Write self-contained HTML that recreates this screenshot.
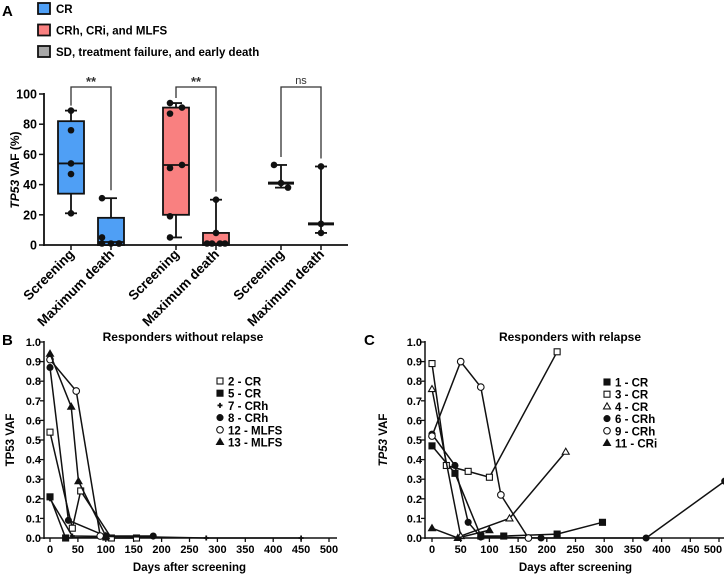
<!DOCTYPE html>
<html><head><meta charset="utf-8"><style>
body{margin:0;background:#fff}
svg{display:block;font-family:"Liberation Sans",Arial,sans-serif;font-weight:bold}
</style></head><body>
<svg id="s" width="724" height="574" viewBox="0 0 724 574" xmlns="http://www.w3.org/2000/svg"></svg>
<script>
// ---- Panel A data ----
const groupNames=["CR","CRh, CRi, and MLFS","SD, treatment failure, and early death"];
const groupColors=["#4f9ff5","#f98080","#a8a8a8"];
const catLabels=["Screening","Maximum death"];
const boxQ1=[34,0,20,0,39,8];
const boxMed=[54,2,53,1,41,14];
const boxQ3=[82,18,91,8,41,14];
const boxMin=[21,0,5,0,38,8];
const boxMax=[89,31,94,30,53,52];
const ptsCRs=[89,76,54,47,21];
const ptsCRm=[31,5,1,1,1,1];
const ptsCRhs=[94,91,87,53,51,19,5];
const ptsCRhm=[30,8,1,1,1,1];
const ptsSDs=[53,41,38];
const ptsSDm=[52,14,8];
const sigLabels=["**","**","ns"];
const yTicksA=[0,20,40,60,80,100];
// ---- Panel B data ----
const bNames=["2 - CR","5 - CR","7 -  CRh","8 - CRh","12 - MLFS","13 - MLFS"];
const bMarkers=["osq","fsq","plus","fci","oci","ftri"];
const b2d=[0,40,55,110,155], b2v=[0.54,0.05,0.24,0,0];
const b5d=[0,28,100], b5v=[0.21,0,0.005];
const b7d=[0,40,185,280,450], b7v=[0.2,0.01,0.005,0,0];
const b8d=[0,33,100,185], b8v=[0.87,0.09,0.01,0.01];
const b12d=[0,47,90], b12v=[0.91,0.75,0.01];
const b13d=[0,38,51,100], b13v=[0.94,0.67,0.29,0.01];
// ---- Panel C data ----
const cNames=["1 - CR","3 - CR","4 - CR","6 - CRh","9 - CRh","11 - CRi"];
const cMarkers=["fsq","osq","otri","fci","oci","ftri"];
const c1d=[0,40,85,125,218,297], c1v=[0.47,0.33,0.01,0.01,0.02,0.08];
const c3d=[0,25,63,100,218], c3v=[0.89,0.37,0.34,0.31,0.95];
const c4d=[0,50,135,233], c4v=[0.76,0.01,0.1,0.44];
const c6d=[0,40,63,85,190,373,510], c6v=[0.53,0.37,0.08,0.005,0,0,0.29];
const c9d=[0,50,85,120,168], c9v=[0.52,0.9,0.77,0.22,0];
const c11d=[0,45,100], c11v=[0.05,0,0.04];
const xTicks=[0,50,100,150,200,250,300,350,400,450,500];
const yTicksL=[0,0.1,0.2,0.3,0.4,0.5,0.6,0.7,0.8,0.9,1.0];

const S=document.getElementById('s');const NS="http://www.w3.org/2000/svg";
function el(t,a,p){const e=document.createElementNS(NS,t);for(const k in a)e.setAttribute(k,a[k]);(p||S).appendChild(e);return e;}
function txt(x,y,s,a,p){const e=el('text',Object.assign({x:x,y:y},a||{}),p);e.textContent=s;return e;}

// ===== Panel A =====
let t=txt(2,16,"A",{'font-size':15});
groupNames.forEach((n,i)=>{const g=el('g',{});
 el('rect',{x:38,y:3+i*21.5,width:12,height:11,fill:groupColors[i],stroke:'#111','stroke-width':1.8},g);
 txt(56,13+i*21.5,n,{'font-size':11.5},g);});
const ay=v=>245-v*1.51;
const catX=[71,111,176,216,281,321];
const ax=el('g',{});
el('line',{x1:44,y1:93,x2:44,y2:246,stroke:'#111','stroke-width':1.8},ax);
el('line',{x1:43,y1:245,x2:348,y2:245,stroke:'#111','stroke-width':1.8},ax);
yTicksA.forEach(v=>{el('line',{x1:39,y1:ay(v),x2:44,y2:ay(v),stroke:'#111','stroke-width':1.5},ax);txt(37,ay(v)+4.5,v,{'font-size':12.5,'text-anchor':'end'},ax);});
t=txt(19,170,"",{'font-size':12,'text-anchor':'middle',transform:'rotate(-90 19 170)'});
t.innerHTML='<tspan font-style="italic">TP53</tspan> VAF (%)';
const allPts=[ptsCRs,ptsCRm,ptsCRhs,ptsCRhm,ptsSDs,ptsSDm];
const jit=[[0,0,0,0,0,0,0],[-9,-9,0,8,-9,8],[-6,6,-6,6,-6,-6,-6],[0,0,-9,-4,4,9],[-7,0,7],[0,0,0]];
catX.forEach((x,i)=>{const g=el('g',{});
 const gi=Math.floor(i/2);
 el('line',{x1:x,y1:ay(boxMin[i]),x2:x,y2:ay(boxMax[i]),stroke:'#111','stroke-width':1.8},g);
 el('line',{x1:x-6,y1:ay(boxMax[i]),x2:x+6,y2:ay(boxMax[i]),stroke:'#111','stroke-width':1.8},g);
 el('line',{x1:x-6,y1:ay(boxMin[i]),x2:x+6,y2:ay(boxMin[i]),stroke:'#111','stroke-width':1.8},g);
 if(gi<2)el('rect',{x:x-13,y:ay(boxQ3[i]),width:26,height:ay(boxQ1[i])-ay(boxQ3[i]),fill:groupColors[gi],stroke:'#111','stroke-width':1.8},g);
 el('line',{x1:x-13,y1:ay(boxMed[i]),x2:x+13,y2:ay(boxMed[i]),stroke:'#111','stroke-width':gi<2?1.8:3},g);
 allPts[i].forEach((v,k)=>{el('circle',{cx:x+jit[i][k],cy:ay(v),r:3.3,fill:'#111'},g);});
 el('line',{x1:x,y1:245,x2:x,y2:250,stroke:'#111','stroke-width':1.5},g);
 txt(x+4,255,catLabels[i%2],{'font-size':13.5,'text-anchor':'end',transform:`rotate(-45 ${x+4} 255)`},g);});
sigLabels.forEach((s,i)=>{const g=el('g',{});
 const x1=catX[2*i],x2=catX[2*i+1],y=87;
 const l1=i==0?ay(boxMax[0])-5:(i==1?ay(boxMax[2])-5:ay(boxMax[4])-8);
 el('polyline',{points:`${x1},${l1} ${x1},${y} ${x2},${y} ${x2},${ay(boxMax[2*i+1])-8}`,fill:'none',stroke:'#333','stroke-width':1.3},g);
 txt((x1+x2)/2,i==2?84:86,s,{'font-size':i==2?11:13,'text-anchor':'middle','font-weight':i==2?'normal':'bold',fill:'#333'},g);});

// ===== Line panels =====
function marker(g,m,x,y){
 const st={stroke:'#111','stroke-width':1.1};
 if(m=='osq'||m=='fsq')el('rect',Object.assign({x:x-3,y:y-3,width:6,height:6,fill:m=='osq'?'#fff':'#111'},st),g);
 else if(m=='oci'||m=='fci')el('circle',Object.assign({cx:x,cy:y,r:m=='oci'?3.3:3,fill:m=='oci'?'#fff':'#111'},st),g);
 else if(m=='otri'||m=='ftri')el('polygon',Object.assign({points:`${x},${y-3.5} ${x-3.5},${y+2.5} ${x+3.5},${y+2.5}`,fill:m=='otri'?'#fff':'#111'},st),g);
 else {el('line',{x1:x-2.5,y1:y,x2:x+2.5,y2:y,stroke:'#111','stroke-width':1.8},g);el('line',{x1:x,y1:y-2.5,x2:x,y2:y+2.5,stroke:'#111','stroke-width':1.8},g);}
}
function linePanel(o){
 const X=d=>o.x0+d*(o.x500-o.x0)/500, Y=v=>538-v*196;
 let t=txt(o.lx,345,o.letter,{'font-size':15});
 t=txt(o.tx,341,o.title,{'font-size':12,'text-anchor':'middle'});
 const a=el('g',{});
 el('line',{x1:o.ax,y1:341,x2:o.ax,y2:539,stroke:'#111','stroke-width':1.5},a);
 el('line',{x1:o.ax,y1:538,x2:o.x500+8,y2:538,stroke:'#111','stroke-width':1.5},a);
 yTicksL.forEach(v=>{el('line',{x1:o.ax-4,y1:Y(v),x2:o.ax,y2:Y(v),stroke:'#111','stroke-width':1.3},a);txt(o.ax-3,Y(v)+4,v.toFixed(1),{'font-size':11,'text-anchor':'end'},a);});
 xTicks.forEach(v=>{el('line',{x1:X(v),y1:538,x2:X(v),y2:542,stroke:'#111','stroke-width':1.3},a);
  const tx=Math.min(X(v),723-10);txt(tx,553,v,{'font-size':11,'text-anchor':'middle'},a);});
 t=txt((o.x0+o.x500)/2,571,"Days after screening",{'font-size':11.5,'text-anchor':'middle'});
 t=txt(o.yt,440,"",{'font-size':11.5,'text-anchor':'middle',transform:`rotate(-90 ${o.yt} 440)`});t.innerHTML=o.ytitle;
 o.series.forEach((s,i)=>{const g=el('g',{});
  el('polyline',{points:s[0].map((d,k)=>X(d)+','+Y(s[1][k])).join(' '),fill:'none',stroke:'#111','stroke-width':1.5},g);
  s[0].forEach((d,k)=>marker(g,o.markers[i],X(d),Y(s[1][k])));});
 o.names.forEach((n,i)=>{const g=el('g',{});
  marker(g,o.markers[i],o.legx,o.legy+i*12.2);txt(o.legx+8,o.legy+4.5+i*12.2,n,{'font-size':11.5},g);});
}
linePanel({letter:"B",lx:2,tx:183,title:"Responders without relapse",ax:44,x0:50,x500:329,yt:14,ytitle:"TP53 VAF",
 names:bNames,markers:bMarkers,series:[[b2d,b2v],[b5d,b5v],[b7d,b7v],[b8d,b8v],[b12d,b12v],[b13d,b13v]],legx:220,legy:381});
linePanel({letter:"C",lx:364,tx:570,title:"Responders with relapse",ax:425,x0:432,x500:719,yt:387,ytitle:'<tspan font-style="italic">TP53</tspan> VAF',
 names:cNames,markers:cMarkers,series:[[c1d,c1v],[c3d,c3v],[c4d,c4v],[c6d,c6v],[c9d,c9v],[c11d,c11v]],legx:607,legy:382});
</script>
</body></html>
